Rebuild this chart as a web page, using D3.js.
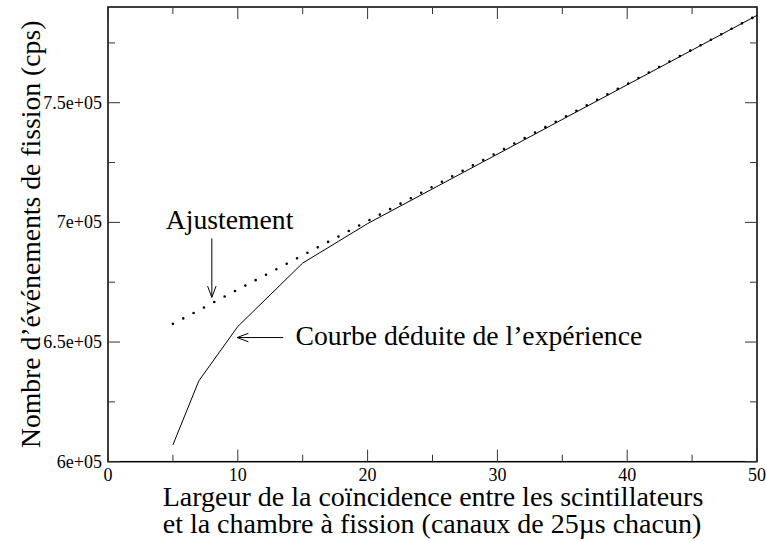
<!DOCTYPE html>
<html>
<head>
<meta charset="utf-8">
<script src="https://cdn.jsdelivr.net/npm/d3@7"></script>
</head>
<body style="margin:0">
<svg width="767" height="541"></svg>
<script>
// measured curve (coincidence width in channels -> counts per second)
const expX = [5, 7, 10, 15, 20, 50];
const expY = [607000, 633800, 656500, 683000, 699500, 786500];

// linear fit
const fitX = [5, 50];
const fitY = [657600, 786500];

const xTicks = [0, 10, 20, 30, 40, 50];
const xMinor = [5, 15, 25, 35, 45];
const yTicks = [600000, 650000, 700000, 750000];
const yMinor = [625000, 675000, 725000, 775000];
const yTickLabels = ['6e+05', '6.5e+05', '7e+05', '7.5e+05'];

const SERIF = "'Liberation Serif'";

const svg = d3.select('svg');
const MARGIN = { TOP: 7, RIGHT: 10, BOTTOM: 79.3, LEFT: 108 };
const WIDTH = +svg.attr('width') - MARGIN.LEFT - MARGIN.RIGHT;
const HEIGHT = +svg.attr('height') - MARGIN.TOP - MARGIN.BOTTOM;

const g = svg
  .append('g')
  .attr('transform', `translate(${MARGIN.LEFT}, ${MARGIN.TOP})`);

// scales
const x = d3.scaleLinear().domain([0, 50]).range([0, WIDTH]);
const y = d3.scaleLinear().domain([600000, 790000]).range([HEIGHT, 0]);

// frame
g.append('rect')
  .attr('width', WIDTH)
  .attr('height', HEIGHT)
  .attr('fill', 'none')
  .attr('stroke', '#000')
  .attr('stroke-width', 1.5);

// ticks on all four sides, pointing in
const MAJOR = 12;
const MINOR = 7;
const tickG = g.append('g').attr('stroke', '#333').attr('stroke-width', 1);
xTicks.concat(xMinor).forEach(v => {
  const len = xTicks.includes(v) ? MAJOR : MINOR;
  tickG.append('line').attr('x1', x(v)).attr('x2', x(v)).attr('y1', HEIGHT).attr('y2', HEIGHT - len);
  tickG.append('line').attr('x1', x(v)).attr('x2', x(v)).attr('y1', 0).attr('y2', len);
});
yTicks.concat(yMinor).forEach(v => {
  const len = yTicks.includes(v) ? MAJOR : MINOR;
  tickG.append('line').attr('x1', 0).attr('x2', len).attr('y1', y(v)).attr('y2', y(v));
  tickG.append('line').attr('x1', WIDTH).attr('x2', WIDTH - len).attr('y1', y(v)).attr('y2', y(v));
});

// tick labels
g.selectAll('.xl')
  .data(xTicks)
  .join('text')
  .attr('class', 'xl')
  .attr('x', d => x(d))
  .attr('y', HEIGHT + 19)
  .attr('text-anchor', 'middle')
  .attr('font-size', 18)
  .style('font-family', SERIF)
  .text(d => d);

g.selectAll('.yl')
  .data(yTicks)
  .join('text')
  .attr('class', 'yl')
  .attr('x', -6)
  .attr('y', d => y(d) + 6)
  .attr('text-anchor', 'end')
  .attr('font-size', 18)
  .style('font-family', SERIF)
  .text((d, i) => yTickLabels[i]);

// lines
const line = d3
  .line()
  .x(d => x(d[0]))
  .y(d => y(d[1]));

g.append('path')
  .attr('fill', 'none')
  .attr('stroke', '#000')
  .attr('stroke-width', 1)
  .attr('d', line(expX.map((v, i) => [v, expY[i]])));

g.append('path')
  .attr('fill', 'none')
  .attr('stroke', '#000')
  .attr('stroke-width', 2.6)
  .attr('stroke-linecap', 'round')
  .attr('stroke-dasharray', '0,11.7')
  .attr('d', line(fitX.map((v, i) => [v, fitY[i]])));

// annotation arrows (open heads drawn as paths)
function arrow(x1, y1, x2, y2) {
  const a = Math.atan2(y2 - y1, x2 - x1);
  const L = 12, W = 0.36;
  const p = d3.path();
  p.moveTo(x1, y1);
  p.lineTo(x2, y2);
  p.moveTo(x2 - L * Math.cos(a - W), y2 - L * Math.sin(a - W));
  p.lineTo(x2, y2);
  p.lineTo(x2 - L * Math.cos(a + W), y2 - L * Math.sin(a + W));
  g.append('path').attr('d', p.toString()).attr('fill', 'none').attr('stroke', '#000').attr('stroke-width', 1);
}

g.append('text')
  .attr('x', x(4.45))
  .attr('y', y(700000) + 7)
  .attr('font-size', 27.7)
  .style('font-family', SERIF)
  .text('Ajustement');
arrow(x(8), y(700000) + 16, x(8), y(700000) + 75);

g.append('text')
  .attr('x', x(14.45))
  .attr('y', y(650000) + 3)
  .attr('font-size', 27.7)
  .style('font-family', SERIF)
  .text('Courbe déduite de l’expérience');
arrow(x(13.5), y(650000) - 4.5, x(9.95), y(650000) - 4.5);

// axis titles
svg.append('text')
  .attr('x', 433)
  .attr('y', 506)
  .attr('text-anchor', 'middle')
  .attr('font-size', 28)
  .style('font-family', SERIF)
  .text('Largeur de la coïncidence entre les scintillateurs');

svg.append('text')
  .attr('x', 432)
  .attr('y', 533)
  .attr('text-anchor', 'middle')
  .attr('font-size', 28)
  .style('font-family', SERIF)
  .text('et la chambre à fission (canaux de 25µs chacun)');

svg.append('text')
  .attr('transform', `translate(40, ${MARGIN.TOP + HEIGHT / 2}) rotate(-90)`)
  .attr('text-anchor', 'middle')
  .attr('font-size', 27.7)
  .style('font-family', SERIF)
  .text('Nombre d’événements de fission (cps)');
</script>
</body>
</html>
